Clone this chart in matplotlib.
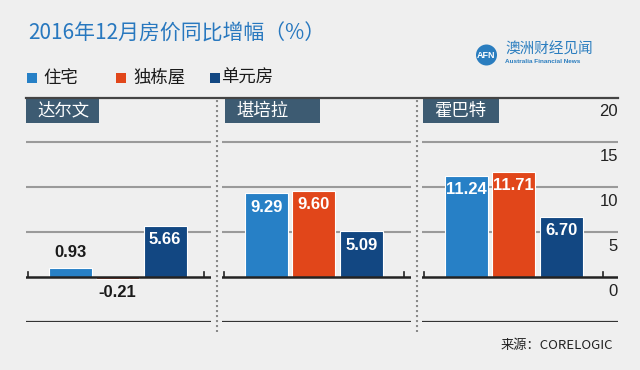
import matplotlib
matplotlib.use('Agg')
import matplotlib.pyplot as plt
from matplotlib.patches import Rectangle, Ellipse
from matplotlib.lines import Line2D

# ---- data ----
cities = ['达尔文', '堪培拉', '霍巴特']
series = ['住宅', '独栋屋', '单元房']
house = [0.93, 9.29, 11.24]
detached = [-0.21, 9.60, 11.71]
unit = [5.66, 5.09, 6.70]
yticks = [0, 5, 10, 15, 20]
title = '2016年12月房价同比增幅（%）'
source = '来源：CORELOGIC'

colors = ['#2780c6', '#e1461a', '#124782']
CJK = ['Noto Sans CJK SC', 'DejaVu Sans']
NUM = ['Liberation Sans', 'DejaVu Sans']

W, H = 640, 370
fig = plt.figure(figsize=(6.4, 3.7), dpi=100, facecolor='#efefef')


def fx(x):
    return x / W


def fy(y):
    return 1 - y / H


top_px, bot_px = 97.5, 321.5
panels = [(26, 211), (222, 411), (422, 618)]
unit_px = 47.5
x0 = -0.93

axes = []
for i, (l, r) in enumerate(panels):
    ax = fig.add_axes([fx(l), fy(bot_px), (r - l) / W, (bot_px - top_px) / H])
    ax.set_facecolor('none')
    ax.set_xlim(x0, x0 + (r - l) / unit_px)
    ax.set_ylim(-5, 20)
    for s in ax.spines.values():
        s.set_visible(False)
    ax.set_xticks([])
    ax.set_yticks([])
    vals = [house[i], detached[i], unit[i]]
    for y in (5, 10, 15):
        ax.axhline(y, color='#9a9a9a', lw=1.5, zorder=1)
    ax.axhline(-5, color='#333333', lw=1.6, zorder=1)
    ax.bar(range(3), vals, width=0.9, color=colors, edgecolor='white',
           linewidth=0.8, zorder=3)
    ax.axhline(0, color='#222222', lw=1.8, zorder=4)
    xl, xr = ax.get_xlim()
    for xt in (xl + 2 / unit_px, xr - (7 if i < 2 else 15) / unit_px):
        ax.plot([xt, xt], [0, 0.55], color='#222222', lw=1.2, zorder=4)
    for j, v in enumerate(vals):
        if v >= 2:
            ax.annotate(f'{v:.2f}', (j, v), xytext=(0, -14), textcoords='offset pixels',
                        ha='center', va='center', color='white', fontsize=12,
                        fontweight='bold', family=NUM, zorder=5)
        elif v >= 0:
            ax.annotate(f'{v:.2f}', (j, v), xytext=(0, 16), textcoords='offset pixels',
                        ha='center', va='center', color='#1a1a1a', fontsize=12,
                        fontweight='bold', family=NUM, zorder=5)
        else:
            ax.annotate(f'{v:.2f}', (j, v), xytext=(0, -14), textcoords='offset pixels',
                        ha='center', va='center', color='#1a1a1a', fontsize=12,
                        fontweight='bold', family=NUM, zorder=5)
    axes.append(ax)

# y tick labels on right panel
for t in yticks:
    axes[2].annotate(str(t), xy=(1, t), xycoords=('axes fraction', 'data'),
                     xytext=(0, -14.5), textcoords='offset pixels', ha='right',
                     va='center', fontsize=12, color='#222222', family=NUM)

# top continuous line
fig.add_artist(Line2D([fx(26), fx(618)], [fy(top_px)] * 2, color='#444444', lw=1.6))

# dotted separators
for xs in (217, 416.5):
    fig.add_artist(Line2D([fx(xs)] * 2, [fy(100), fy(332)], color='#8a8a8a', lw=1.5,
                          linestyle=(0, (1, 1.4))))

# panel label boxes
boxes = [(26, 73), (225, 95), (423, 76)]
for (bl, bw), name in zip(boxes, cities):
    fig.add_artist(Rectangle((fx(bl), fy(122.5)), bw / W, 23.5 / H,
                             transform=fig.transFigure, color='#3d5b72', lw=0))
    fig.text(fx(bl + 11), fy(110.5), name, color='white', fontsize=12.5,
             family=CJK, ha='left', va='center')

# title
fig.text(fx(28), fy(34), title, color='#2878bf', fontsize=15, family=CJK,
         ha='left', va='center')

# legend
leg_sq = [27, 116, 210]
leg_tx = [43, 133, 221]
for sx, tx, c, lab in zip(leg_sq, leg_tx, colors, series):
    fig.add_artist(Rectangle((fx(sx), fy(82.5)), 9.5 / W, 9.5 / H,
                             transform=fig.transFigure, color=c, lw=0))
    fig.text(fx(tx), fy(77.5), lab, color='#1a1a1a', fontsize=12.5, family=CJK,
             ha='left', va='center')

# logo
fig.add_artist(Ellipse((fx(486.5), fy(55)), 21 / W, 21 / H, transform=fig.transFigure,
                       color='#2a7dbf', lw=0))
fig.text(fx(486.5), fy(55.5), 'AFN', color='white', fontsize=6.5, fontweight='bold',
         family=NUM, ha='center', va='center')
fig.text(fx(505), fy(49.5), '澳洲财经见闻', color='#2a7dbf', fontsize=10.5, family=CJK,
         ha='left', va='center')
fig.text(fx(505), fy(61.5), 'Australia Financial News', color='#2a7dbf', fontsize=4.6,
         fontweight='bold', family=NUM, ha='left', va='center')

# source
fig.text(fx(613), fy(345), source, color='#222222', fontsize=9.5, family=CJK,
         ha='right', va='center')

fig.savefig('out.png', dpi=100, facecolor=fig.get_facecolor())
